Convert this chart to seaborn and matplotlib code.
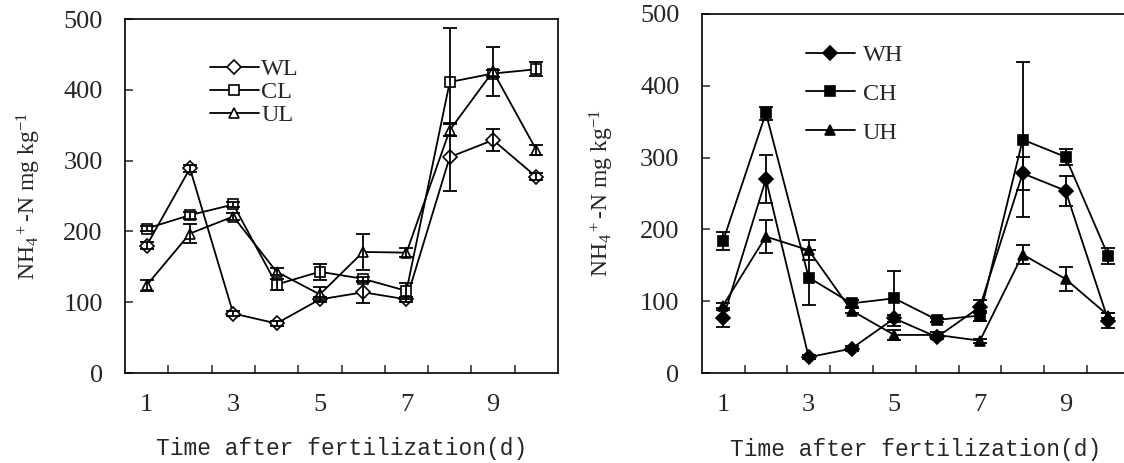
import matplotlib
matplotlib.use("Agg")
import matplotlib.pyplot as plt
import seaborn as sns
import numpy as np
from matplotlib.ticker import FixedLocator, NullFormatter, FixedFormatter

# ---------------- data ----------------
days = ["1", "2", "3", "4", "5", "6", "7", "8", "9", "10"]
day_labels = ["1", "3", "5", "7", "9"]
y_ticks = [0, 100, 200, 300, 400, 500]

WL = [180, 289, 84, 70, 104, 114, 104, 305, 329, 277]
WL_err = [5, 5, 4, 3, 4, 15, 4, 48, 16, 5]
CL = [204, 223, 238, 125, 143, 133, 116, 411, 423, 429]
CL_err = [3, 5, 4, 8, 11, 3, 11, 76, 5, 10]
UL = [124, 197, 221, 143, 111, 171, 170, 343, 426, 315]
UL_err = [8, 14, 5, 5, 10, 25, 6, 8, 35, 7]

WH = [76, 270, 22, 34, 76, 50, 92, 278, 254, 73]
WH_err = [12, 33, 3, 4, 5, 3, 9, 23, 21, 10]
CH = [184, 362, 133, 97, 104, 74, 80, 325, 301, 163]
CH_err = [13, 9, 38, 5, 38, 3, 7, 108, 11, 11]
UH = [94, 190, 171, 87, 53, 53, 45, 165, 131, 80]
UH_err = [4, 23, 14, 4, 7, 4, 3, 13, 17, 4]

# ---------------- style ----------------
sns.set_style("white")
plt.rcParams["font.family"] = ["Liberation Serif", "DejaVu Serif"]
plt.rcParams["mathtext.fontset"] = "custom"
plt.rcParams["mathtext.rm"] = "Liberation Serif"
plt.rcParams["mathtext.it"] = "Liberation Serif"

W, H = 1124, 463
fig = plt.figure(figsize=(W / 100, H / 100), dpi=100)

def px_axes(x0, x1, ytop, ybot):
    return [x0 / W, (H - ybot) / H, (x1 - x0) / W, (ybot - ytop) / H]

ax1 = fig.add_axes(px_axes(125, 558, 19, 373))
ax2 = fig.add_axes(px_axes(701.7, 1129.7, 14, 373))

xpos = np.arange(len(days))

def draw(ax, series, legend_anchor, spacing, textpad):
    for name, vals, errs, marker, filled in series:
        sns.lineplot(x=xpos, y=vals, ax=ax, color="black", lw=1.3,
                     marker=marker, markersize=7.5 if marker == "^" else 7,
                     markerfacecolor="black" if filled else "white",
                     markeredgecolor="black", markeredgewidth=1.2,
                     label=name, zorder=3)
        ax.errorbar(xpos, vals, yerr=errs, fmt="none", ecolor="black",
                    elinewidth=1.3, capsize=5, capthick=1.3, zorder=4)
    ax.set_xlim(-0.5, len(days) - 0.5)
    ax.set_ylim(0, 500)
    ax.xaxis.set_major_locator(FixedLocator(np.arange(0.5, len(days) - 0.5, 1)))
    ax.xaxis.set_major_formatter(NullFormatter())
    ax.xaxis.set_minor_locator(FixedLocator([0, 2, 4, 6, 8]))
    ax.xaxis.set_minor_formatter(FixedFormatter(day_labels))
    ax.tick_params(axis="x", which="major", direction="in", length=6, width=1.1,
                   bottom=True, top=False)
    ax.tick_params(axis="x", which="minor", length=0, pad=15, labelsize=19)
    ax.set_yticks(y_ticks)
    ax.tick_params(axis="y", direction="in", length=6, width=1.1, pad=16,
                   labelsize=19, left=True, right=False)
    for sp in ax.spines.values():
        sp.set_linewidth(1.2)
        sp.set_color("black")
    ax.set_xlabel("Time after fertilization(d)", fontfamily="Liberation Mono",
                  fontsize=16.5, va="center")
    ax.xaxis.set_label_coords(0.5, -0.212)
    ax.set_ylabel(r"NH$_4$$^+$-N mg kg$^{-1}$", fontsize=17, va="center")
    ax.grid(False)
    handles, labels = ax.get_legend_handles_labels()
    ax.legend(handles[:3], labels[:3], loc="upper left",
              bbox_to_anchor=legend_anchor, bbox_transform=fig.transFigure,
              frameon=False, handlelength=2.0, handletextpad=textpad,
              labelspacing=spacing, borderpad=0, borderaxespad=0,
              prop={"family": "Liberation Serif", "size": 17.5})

draw(ax1, [("WL", WL, WL_err, "D", False),
           ("CL", CL, CL_err, "s", False),
           ("UL", UL, UL_err, "^", False)],
     (210 / W, 1 - 58 / H), 0.05, 0.1)
draw(ax2, [("WH", WH, WH_err, "D", True),
           ("CH", CH, CH_err, "s", True),
           ("UH", UH, UH_err, "^", True)],
     (806 / W, 1 - 44 / H), 0.69, 0.33)

ax1.yaxis.set_label_coords((29 - 125) / 433, 0.5)
ax2.yaxis.set_label_coords((602 - 701.7) / 428, 0.5)

fig.savefig("out.png", dpi=100)
